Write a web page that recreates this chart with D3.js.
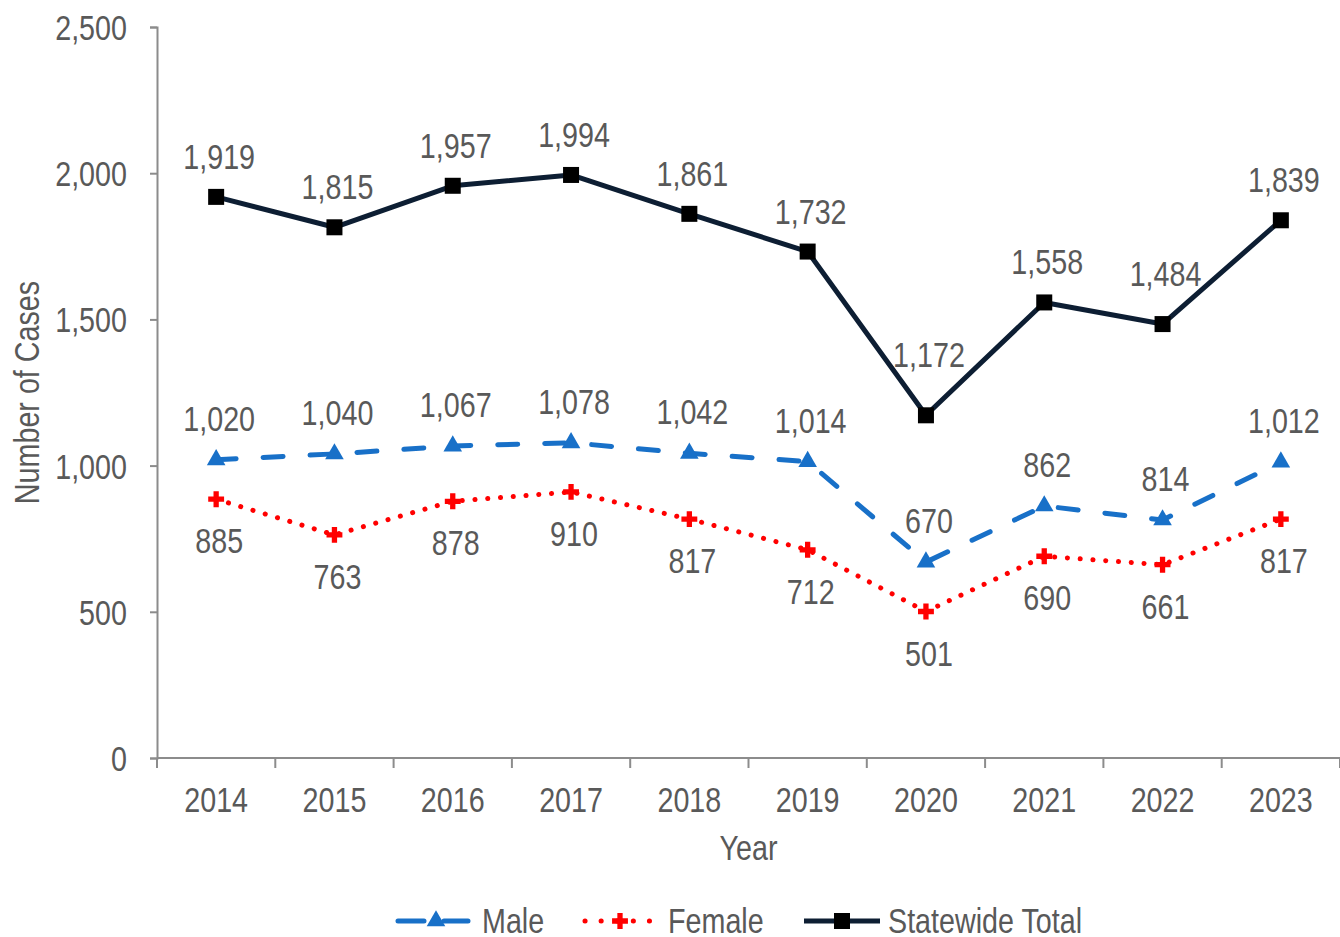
<!DOCTYPE html>
<html>
<head>
<meta charset="utf-8">
<script src="https://cdn.jsdelivr.net/npm/d3@7"></script>
<style>
  body { margin: 0; background: #fff; }
  text { font-family: "Liberation Sans", Arial, sans-serif; fill: #595959; }
</style>
</head>
<body>
<div id="chart"></div>
<script>
// chart values
var years = ["2014", "2015", "2016", "2017", "2018", "2019", "2020", "2021", "2022", "2023"];
var maleCases = [1020, 1040, 1067, 1078, 1042, 1014, 670, 862, 814, 1012];
var femaleCases = [885, 763, 878, 910, 817, 712, 501, 690, 661, 817];
var totalCases = [1919, 1815, 1957, 1994, 1861, 1732, 1172, 1558, 1484, 1839];
var yTicks = [0, 500, 1000, 1500, 2000, 2500];

var W = 1340, H = 937;
var margin = {top: 27, right: 0, bottom: 179, left: 157};
var width = W - margin.left - margin.right,
    height = H - margin.top - margin.bottom;

var svg = d3.select("#chart").append("svg")
    .attr("width", W)
    .attr("height", H);

var g = svg.append("g")
    .attr("transform", "translate(" + margin.left + "," + margin.top + ")");

var x = d3.scaleBand().domain(years).range([0, width]);
var y = d3.scaleLinear().domain([0, 2500]).range([height, 0]);
var fmt = d3.format(",");

var axisColor = "#8c8c8c";
var fontSize = 35;
var squeeze = 0.82; // the original font is a narrow sans

// narrow text helper
function txt(parent, px, py, s, anchor, rot) {
  return parent.append("text")
    .attr("transform", "translate(" + px + "," + py + ")" + (rot ? " rotate(" + rot + ")" : "") + " scale(" + squeeze + ",1)")
    .attr("text-anchor", anchor || "middle")
    .style("font-size", fontSize + "px")
    .text(s);
}

// y axis
var yAxis = g.append("g")
    .call(d3.axisLeft(y).tickValues(yTicks).tickFormat("").tickSize(7));
yAxis.select(".domain").attr("stroke", axisColor).attr("stroke-width", 2);
yAxis.selectAll(".tick line").attr("stroke", axisColor).attr("stroke-width", 2);
yTicks.forEach(function(t) {
  txt(g, -30, y(t) + 13, fmt(t), "end");
});

// x axis: ticks at band boundaries
var xAxis = g.append("g").attr("transform", "translate(0," + height + ")");
xAxis.append("line")
    .attr("x1", 0).attr("x2", width)
    .attr("stroke", axisColor).attr("stroke-width", 2);
var bounds = years.map(function(d) { return x(d); }).concat([width]);
xAxis.selectAll(".xt").data(bounds).enter().append("line")
    .attr("x1", function(d) { return d; }).attr("x2", function(d) { return d; })
    .attr("y1", 0).attr("y2", 10)
    .attr("stroke", axisColor).attr("stroke-width", 2);
years.forEach(function(d) {
  txt(xAxis, x(d) + x.bandwidth() / 2, 54, d, "middle");
});

// axis titles
txt(g, width / 2, height + 102, "Year", "middle");
txt(svg, 39, margin.top + height / 2, "Number of Cases", "middle", -90);

var cx = function(i) { return x(years[i]) + x.bandwidth() / 2; };

// a couple of total labels were nudged up in the original
var totalNudge = [0, 0, 0, 0, 0, 0, -20, 0, -10, 0];

var series = [
  {name: "Statewide Total", values: totalCases, color: "#0d1e33", width: 5, dash: null, cap: "butt", marker: "square", labelDy: -28, nudge: totalNudge},
  {name: "Male", values: maleCases, color: "#1870c8", width: 5, dash: "20,27", cap: "round", marker: "triangle", labelDy: -29},
  {name: "Female", values: femaleCases, color: "#ff0000", width: 5, dash: "0.1,12.7", cap: "round", marker: "cross", labelDy: 54}
];

var line = d3.line()
    .x(function(d, i) { return cx(i); })
    .y(function(d) { return y(d); });

function drawMarker(sel, type, color) {
  if (type === "square") {
    sel.append("rect").attr("x", -8).attr("y", -8).attr("width", 16).attr("height", 16).attr("fill", "#000");
  } else if (type === "triangle") {
    sel.append("path").attr("d", d3.symbol().type(d3.symbolTriangle).size(150)).attr("fill", color);
  } else {
    sel.append("path").attr("d", d3.symbol().type(d3.symbolCross).size(140)).attr("fill", color);
  }
}

series.slice().reverse().forEach(function(s) {
  g.append("path")
    .datum(s.values)
    .attr("fill", "none")
    .attr("stroke", s.color)
    .attr("stroke-width", s.width)
    .attr("stroke-linecap", s.cap)
    .attr("stroke-linejoin", "round")
    .attr("stroke-dasharray", s.dash)
    .attr("d", line);

  s.values.forEach(function(v, i) {
    var m = g.append("g").attr("transform", "translate(" + cx(i) + "," + y(v) + ")");
    drawMarker(m, s.marker, s.color);
  });

  s.values.forEach(function(v, i) {
    var extra = s.nudge ? s.nudge[i] : 0;
    txt(g, cx(i) + 3, y(v) + s.labelDy + extra, fmt(v), "middle");
  });
});

// legend
var legendItems = [
  {s: series[1], x0: 398, len: 70, mx: 436, tx: 482, dash: "26,20"},
  {s: series[2], x0: 585, len: 68, mx: 620, tx: 668, dash: "0.1,16"},
  {s: series[0], x0: 804, len: 76, mx: 842, tx: 888, dash: null}
];
var ly = 921;
legendItems.forEach(function(it) {
  var s = it.s;
  var lg = svg.append("g");
  lg.append("line")
    .attr("x1", it.x0).attr("x2", it.x0 + it.len)
    .attr("y1", ly).attr("y2", ly)
    .attr("stroke", s.color)
    .attr("stroke-width", s.width)
    .attr("stroke-linecap", s.cap)
    .attr("stroke-dasharray", it.dash);
  var m = lg.append("g").attr("transform", "translate(" + it.mx + "," + ly + ")");
  drawMarker(m, s.marker, s.color);
  txt(lg, it.tx, ly + 12, s.name, "start");
});
</script>
</body>
</html>
